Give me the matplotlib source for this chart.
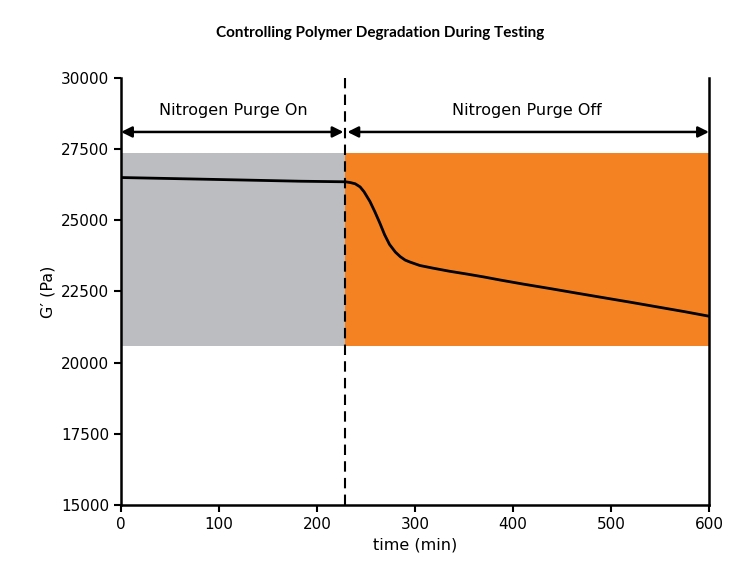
import matplotlib.pyplot as plt

# data
time_min = [0, 100, 183, 229, 234, 239, 244, 248, 251, 254, 259, 264, 269, 274, 280, 285,
            290, 295, 305, 318, 335, 353, 370, 387, 410, 438, 465, 489, 520, 545, 575, 600]
g_prime = [26500, 26430, 26370, 26350, 26323, 26280, 26170, 26000, 25830, 25660, 25300,
           24910, 24490, 24150, 23880, 23720, 23600, 23530, 23410, 23320, 23210, 23110,
           23010, 22900, 22760, 22600, 22440, 22300, 22120, 21970, 21790, 21630]

purge_switch = 229
band_low, band_high = 20600, 27350
arrow_y = 28100
label_y = 28850
x_ticks = [0, 100, 200, 300, 400, 500, 600]
y_ticks = [15000, 17500, 20000, 22500, 25000, 27500, 30000]

gray = '#bcbdc0'
orange = '#f48222'

fig = plt.figure(figsize=(7.34, 5.65), dpi=100)
ax = fig.add_axes([0.1649, 0.1062, 0.801, 0.756])

ax.fill_between([0, purge_switch], band_low, band_high, color=gray, lw=0, zorder=1)
ax.fill_between([purge_switch, 600], band_low, band_high, color=orange, lw=0, zorder=1)
ax.plot(time_min, g_prime, color='black', lw=2, zorder=3, solid_joinstyle='round')
ax.axvline(purge_switch, color='black', lw=1.5, ls=(0, (5, 3)), zorder=4)

arrow_kw = dict(arrowstyle='<|-|>', color='black', lw=1.8, mutation_scale=16,
                shrinkA=0, shrinkB=0)
ax.annotate('', xy=(0, arrow_y), xytext=(purge_switch - 2, arrow_y), arrowprops=arrow_kw)
ax.annotate('', xy=(purge_switch + 2, arrow_y), xytext=(600, arrow_y), arrowprops=arrow_kw)
ax.text(purge_switch / 2, label_y, 'Nitrogen Purge On', ha='center', va='center', fontsize=11.5)
ax.text((purge_switch + 600) / 2, label_y, 'Nitrogen Purge Off', ha='center', va='center', fontsize=11.5)

ax.set_xlim(0, 600)
ax.set_ylim(15000, 30000)
ax.set_xticks(x_ticks)
ax.set_yticks(y_ticks)
ax.tick_params(labelsize=11, width=1.5, length=5, direction='out')
ax.spines['top'].set_visible(False)
for side in ['left', 'right', 'bottom']:
    ax.spines[side].set_linewidth(1.8)
ax.set_xlabel('time (min)', fontsize=11.5)
ax.set_ylabel('G\u2032 (Pa)', fontsize=11.5)

fig.text(380 / 734, 1 - 33 / 565, 'Controlling Polymer Degradation During Testing',
         ha='center', va='center', fontsize=11, fontweight='bold', family='Lato')

fig.savefig('out.png', dpi=100)
